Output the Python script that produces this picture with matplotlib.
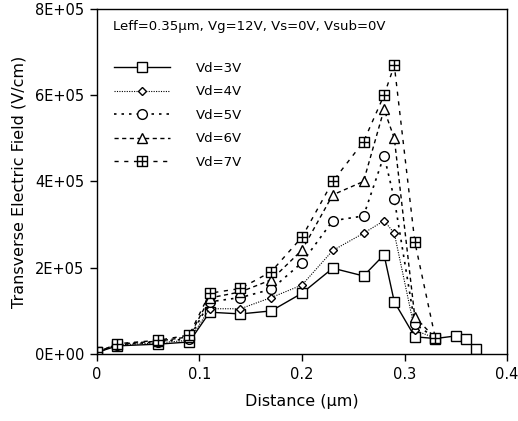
import matplotlib

matplotlib.use("Agg")
import matplotlib.pyplot as plt
from matplotlib.path import Path

# ---------------------------------------------------------------------------
# Data
# ---------------------------------------------------------------------------
x_vd3 = [0, 0.02, 0.06, 0.09, 0.11, 0.14, 0.17, 0.20, 0.23, 0.26, 0.28, 0.29,
         0.31, 0.33, 0.35, 0.36, 0.37]
vd3 = [4e3, 1.9e4, 2.3e4, 2.8e4, 9.7e4, 9.3e4, 1.0e5, 1.41e5, 1.99e5, 1.81e5,
       2.30e5, 1.21e5, 4.0e4, 3.6e4, 4.2e4, 3.4e4, 1.2e4]

x_hi = [0, 0.02, 0.06, 0.09, 0.11, 0.14, 0.17, 0.20, 0.23, 0.26, 0.28, 0.29,
        0.31, 0.33]
vd4 = [4e3, 2.1e4, 2.6e4, 3.2e4, 1.05e5, 1.05e5, 1.31e5, 1.60e5, 2.40e5,
       2.80e5, 3.09e5, 2.80e5, 5.5e4, 3.7e4]
vd5 = [4e3, 2.2e4, 2.8e4, 3.6e4, 1.21e5, 1.31e5, 1.50e5, 2.12e5, 3.09e5,
       3.20e5, 4.60e5, 3.59e5, 7.0e4, 3.7e4]
vd6 = [4e3, 2.3e4, 3.0e4, 4.0e4, 1.30e5, 1.44e5, 1.72e5, 2.41e5, 3.69e5,
       4.00e5, 5.67e5, 5.00e5, 8.6e4, 3.7e4]
vd7 = [4e3, 2.4e4, 3.2e4, 4.4e4, 1.41e5, 1.52e5, 1.91e5, 2.71e5, 4.00e5,
       4.92e5, 6.00e5, 6.69e5, 2.60e5, 3.7e4]

labels = ["Vd=3V", "Vd=4V", "Vd=5V", "Vd=6V", "Vd=7V"]
x_ticks = [0, 0.1, 0.2, 0.3, 0.4]
x_tick_labels = ["0", "0.1", "0.2", "0.3", "0.4"]
y_ticks = [0, 2e5, 4e5, 6e5, 8e5]
y_tick_labels = ["0E+00", "2E+05", "4E+05", "6E+05", "8E+05"]

# square with a cross inside (marker for Vd=7V)
_box_cross = Path(
    [(-1, -1), (1, -1), (1, 1), (-1, 1), (-1, -1),
     (-1, 0), (1, 0), (0, -1), (0, 1)],
    [Path.MOVETO, Path.LINETO, Path.LINETO, Path.LINETO, Path.CLOSEPOLY,
     Path.MOVETO, Path.LINETO, Path.MOVETO, Path.LINETO],
)

styles = [
    dict(ls="-", lw=1.0, marker="s", ms=6.5),
    dict(ls=(0, (1, 1.2)), lw=0.8, marker="D", ms=4.5),
    dict(ls=(0, (1.5, 3)), lw=1.2, marker="o", ms=7),
    dict(ls=(0, (3, 2.5)), lw=1.0, marker="^", ms=7),
    dict(ls=(0, (3, 4)), lw=1.0, marker=_box_cross, ms=7.5),
]

plt.rcParams["font.family"] = ["DejaVu Sans"]

fig = plt.figure(figsize=(5.18, 4.21), dpi=100)
ax = fig.add_axes([0.187, 0.159, 0.792, 0.820])

series = [(x_vd3, vd3), (x_hi, vd4), (x_hi, vd5), (x_hi, vd6), (x_hi, vd7)]
for (xs, ys), lab, st in zip(series, labels, styles):
    ax.plot(xs, ys, color="black", linestyle=st["ls"], linewidth=st["lw"],
            marker=st["marker"], markersize=st["ms"], markerfacecolor="white",
            markeredgecolor="black", markeredgewidth=1.0, label=lab)

ax.set_xlim(0, 0.4)
ax.set_ylim(0, 8e5)
ax.set_xticks(x_ticks)
ax.set_xticklabels(x_tick_labels)
ax.set_yticks(y_ticks)
ax.set_yticklabels(y_tick_labels)
ax.tick_params(direction="out", length=5, width=1, labelsize=10.5, pad=4)
for sp in ax.spines.values():
    sp.set_linewidth(1.0)

ax.set_xlabel("Distance (\u03bcm)", fontsize=11.5, labelpad=9)
ax.set_ylabel("Transverse Electric Field (V/cm)", fontsize=11.5, labelpad=6)

ax.text(0.039, 0.948, "Leff=0.35\u03bcm, Vg=12V, Vs=0V, Vsub=0V",
        transform=ax.transAxes, fontsize=9.5, va="center", ha="left")

ax.legend(loc="upper left", bbox_to_anchor=(0.03, 0.862), frameon=False,
          fontsize=9.5, handlelength=4.2, labelspacing=0.8, handletextpad=2.0,
          borderaxespad=0)

fig.savefig("out.png", dpi=100, facecolor="white")
